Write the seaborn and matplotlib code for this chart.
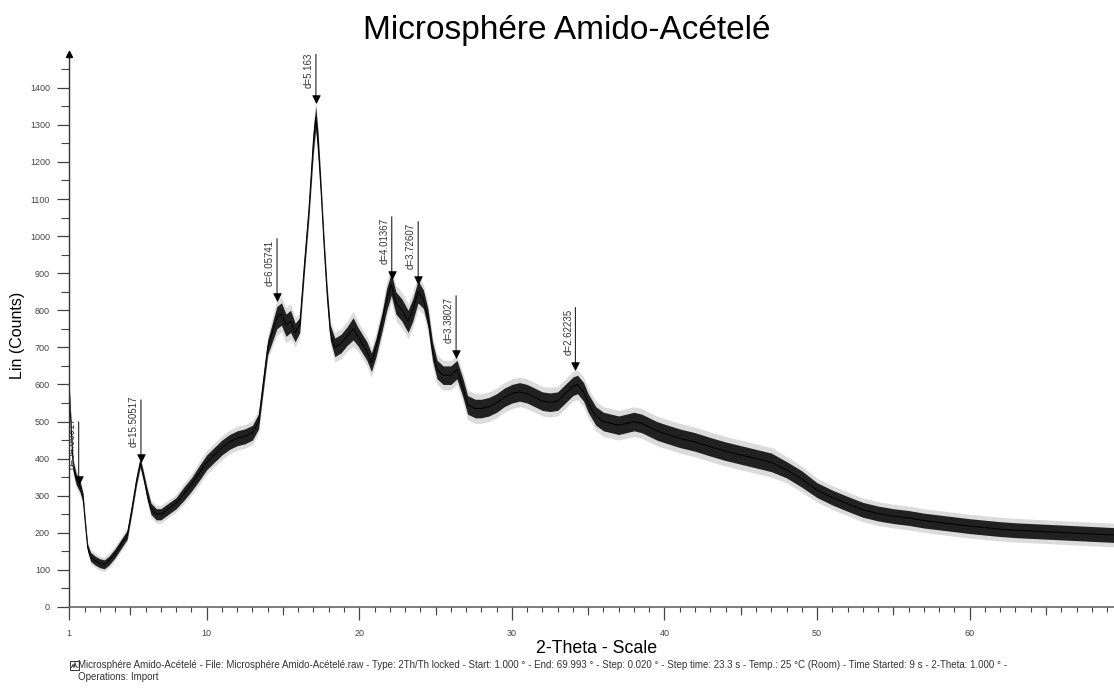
import numpy as np
import matplotlib
matplotlib.use("Agg")
import matplotlib.pyplot as plt
import seaborn as sns
from matplotlib.patches import Rectangle
from matplotlib.lines import Line2D

# Diffractogram trace: 2-theta (deg), mean intensity and noise half-width (counts)
two_theta = [1.00, 1.10, 1.25, 1.45, 1.70, 1.90, 2.05, 2.20, 2.40, 2.70,
             3.00, 3.30, 3.60, 4.00, 4.40, 4.80, 5.10, 5.40, 5.65, 5.90,
             6.10, 6.35, 6.70, 7.00, 7.50, 8.00, 8.50, 9.00, 9.50, 10.00,
             10.50, 11.00, 11.50, 12.00, 12.50, 13.00, 13.40, 13.70, 14.00, 14.30,
             14.60, 14.90, 15.20, 15.50, 15.80, 16.10, 16.40, 16.70, 17.00, 17.15,
             17.30, 17.50, 17.70, 17.90, 18.10, 18.40, 18.80, 19.20, 19.60, 19.90,
             20.20, 20.50, 20.80, 21.10, 21.50, 21.80, 22.10, 22.40, 22.80, 23.20,
             23.50, 23.85, 24.20, 24.50, 24.80, 25.10, 25.50, 26.00, 26.40, 26.80,
             27.10, 27.60, 28.00, 28.50, 29.00, 29.50, 30.00, 30.50, 31.00, 31.50,
             32.00, 32.50, 33.00, 33.50, 34.00, 34.30, 34.70, 35.00, 35.50, 36.00,
             36.50, 37.00, 37.50, 38.00, 38.50, 39.00, 39.50, 40.00, 41.00, 42.00,
             43.00, 44.00, 45.00, 46.00, 47.00, 48.00, 49.00, 50.00, 51.00, 52.00,
             53.00, 54.00, 55.00, 56.00, 57.00, 58.00, 59.00, 60.00, 61.00, 62.00,
             63.00, 64.00, 65.00, 66.00, 67.00, 68.00, 69.00, 69.99]
counts = [585, 500, 380, 345, 325, 295, 225, 160, 135, 125,
          118, 115, 125, 145, 170, 195, 265, 340, 390, 345,
          305, 265, 250, 250, 265, 280, 305, 330, 360, 390,
          410, 430, 445, 455, 460, 470, 500, 600, 700, 740,
          780, 790, 760, 770, 740, 760, 920, 1070, 1260, 1320,
          1250, 1120, 970, 840, 740, 700, 710, 730, 750, 730,
          710, 690, 660, 700, 770, 830, 870, 820, 800, 770,
          800, 850, 830, 780, 690, 640, 625, 625, 640, 590,
          545, 535, 535, 540, 550, 565, 575, 580, 575, 565,
          555, 552, 555, 575, 595, 600, 580, 550, 515, 500,
          495, 490, 495, 500, 495, 485, 475, 468, 455, 445,
          432, 420, 410, 400, 390, 370, 345, 315, 295, 278,
          262, 252, 245, 240, 233, 228, 223, 218, 214, 210,
          207, 205, 203, 201, 199, 197, 195, 193]
spread = [10, 15, 15, 15, 15, 12, 10, 10, 12, 12,
          12, 12, 12, 12, 12, 12, 12, 12, 12, 12,
          15, 15, 15, 15, 15, 15, 18, 18, 20, 20,
          20, 20, 20, 20, 20, 20, 20, 20, 20, 25,
          30, 30, 30, 30, 25, 20, 20, 20, 30, 30,
          30, 20, 20, 20, 20, 25, 25, 25, 30, 25,
          25, 25, 25, 25, 25, 30, 30, 30, 30, 30,
          30, 30, 25, 25, 25, 25, 25, 25, 25, 25,
          25, 25, 25, 25, 25, 25, 25, 25, 25, 25,
          25, 25, 25, 25, 25, 25, 25, 25, 25, 25,
          25, 25, 25, 25, 25, 25, 25, 25, 25, 25,
          25, 25, 25, 25, 25, 22, 22, 20, 20, 20,
          20, 20, 20, 20, 20, 20, 20, 20, 20, 20,
          20, 20, 20, 20, 20, 20, 20, 20]

# Marked reflections: d-spacing (Angstrom) and marker height (counts)
peak_d = [54.66917, 15.50517, 6.05741, 5.16337, 4.01367, 3.72607, 3.38027, 2.62235]
peak_counts = [342, 401, 836, 1370, 895, 882, 682, 650]
wavelength = 1.5406  # Cu K-alpha1

x_ticks = [1, 10, 20, 30, 40, 50, 60]
x_mid_ticks = [5, 15, 25, 35, 45, 55, 65]
y_ticks = list(range(0, 1401, 100))

title = "Microsphére Amido-Acételé"
x_label = "2-Theta - Scale"
y_label = "Lin (Counts)"
footer_lines = [
    "Microsphére Amido-Acételé - File: Microsphére Amido-Acételé.raw - Type: 2Th/Th locked - "
    "Start: 1.000 ° - End: 69.993 ° - Step: 0.020 ° - Step time: 23.3 s - Temp.: 25 °C (Room) - "
    "Time Started: 9 s - 2-Theta: 1.000 ° -",
    "Operations: Import",
]

sns.set_theme(style="white")
plt.rcParams["font.family"] = ["Liberation Sans", "DejaVu Sans"]

W, H = 1114, 695
fig = plt.figure(figsize=(W / 100, H / 100), dpi=100)
fig.patch.set_facecolor("white")

x0_px, x70_px, y0_px, ytop_px = 69.3, 1122.3, 607.0, 54.0
ax = fig.add_axes([x0_px / W, (H - y0_px) / H, (x70_px - x0_px) / W, (y0_px - ytop_px) / H])
ax.set_facecolor("white")
ax.set_xlim(1, 70)
ax.set_ylim(0, 1491)

tt = np.asarray(two_theta)
cc = np.asarray(counts, dtype=float)
sp = np.asarray(spread, dtype=float)

# noise envelope of the scan around the mean trace
ax.fill_between(tt, cc - 1.6 * sp, cc + 1.6 * sp, color="#9a9a9a", alpha=0.35, linewidth=0)
ax.fill_between(tt, cc - sp, cc + sp, color="#0d0d0d", alpha=0.9, linewidth=0)
sns.lineplot(x=tt, y=cc, ax=ax, color="black", linewidth=0.7, estimator=None)

# peak markers with d-spacing labels
peak_tt = np.degrees(2 * np.arcsin(wavelength / (2 * np.asarray(peak_d))))
for t, v, d in zip(peak_tt, peak_counts, peak_d):
    stem = ax.annotate("", xy=(t, v), xytext=(0, 42), textcoords="offset points",
                       arrowprops=dict(arrowstyle="-", color="#222222", lw=0.8,
                                       shrinkA=0, shrinkB=0))
    stem.arrow_patch.set_clip_box(ax.bbox)
    lab = ax.annotate(f"d={d:.5f}", xy=(t, v), xytext=(-1.5, 8), textcoords="offset points",
                      rotation=90, ha="right", va="bottom", fontsize=7, color="#333333")
    lab.set_clip_on(True)
    lab.set_clip_box(ax.bbox)
sns.scatterplot(x=peak_tt, y=peak_counts, ax=ax, marker="v", s=30, color="black",
                edgecolor="black", linewidth=0.5, zorder=5)

# axes styling
for side in ("top", "right"):
    ax.spines[side].set_visible(False)
ax.spines["left"].set_color("#333333")
ax.spines["bottom"].set_color("#666666")
ax.spines["left"].set_linewidth(1.0)
ax.spines["bottom"].set_linewidth(1.2)

ax.set_xticks(x_ticks)
ax.set_xticklabels([str(v) for v in x_ticks])
ax.set_xticks(np.arange(2, 70, 1), minor=True)
ax.set_yticks(y_ticks)
ax.set_yticklabels([str(v) for v in y_ticks])
ax.set_yticks(np.arange(50, 1491, 100), minor=True)
ax.tick_params(axis="x", which="major", bottom=True, direction="out", length=9, width=0.9,
               color="#444444", labelsize=6.5, labelcolor="#444444", pad=6.5)
ax.tick_params(axis="x", which="minor", bottom=True, direction="out", length=3.5, width=0.8,
               color="#444444")
ax.tick_params(axis="y", which="major", left=True, direction="out", length=9, width=0.9,
               color="#444444", labelsize=6.5, labelcolor="#444444", pad=5)
ax.tick_params(axis="y", which="minor", left=True, direction="out", length=6, width=0.8,
               color="#444444")
ax.set_xlabel("")
ax.set_ylabel("")
ax.grid(False)

sec = ax.secondary_xaxis("bottom")
sec.set_xticks(x_mid_ticks)
sec.set_xticklabels([])
sec.tick_params(axis="x", bottom=True, direction="out", length=6, width=0.8, color="#444444")
sec.spines["bottom"].set_visible(False)

# arrow head on the intensity axis
ax.plot([0], [1], marker="^", markersize=5, color="black", transform=ax.transAxes,
        clip_on=False, zorder=6)

fig.text(567 / W, 1 - 30 / H, title, ha="center", va="center", fontsize=24, color="black")
fig.text(597 / W, 1 - 653 / H, x_label, ha="center", va="baseline", fontsize=12.8, color="black")
fig.text(18 / W, 1 - 335 / H, y_label, ha="center", va="center", rotation=90,
         fontsize=11.5, color="black")
fig.text(78 / W, 1 - 665.5 / H, footer_lines[0], ha="left", va="center", fontsize=7, color="#333333")
fig.text(78 / W, 1 - 676.5 / H, footer_lines[1], ha="left", va="center", fontsize=7, color="#333333")

# small scan icon before the footer
ix, iy, iw, ih = 70.5, 660.5, 8.0, 9.0
fig.patches.append(Rectangle((ix / W, 1 - (iy + ih) / H), iw / W, ih / H, transform=fig.transFigure,
                             fill=False, edgecolor="#333333", linewidth=0.7))
zx = [ix + 1, ix + 2.5, ix + 3.5, ix + 4.5, ix + 5.5, ix + 7]
zy = [iy + 7, iy + 4, iy + 7, iy + 2, iy + 6, iy + 7]
fig.lines.append(Line2D([v / W for v in zx], [1 - v / H for v in zy], transform=fig.transFigure,
                        color="#333333", linewidth=0.7))

fig.savefig("out.png", dpi=100, facecolor="white")
